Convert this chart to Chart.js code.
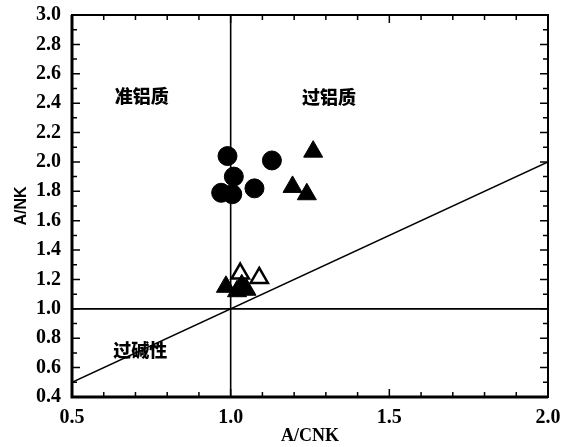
<!DOCTYPE html>
<html>
<head>
<meta charset="utf-8">
<script src="https://cdn.jsdelivr.net/npm/chart.js@4"></script>
<style>
  body { margin: 0; background: #fff; }
  #wrap { width: 568px; height: 447px; }
</style>
</head>
<body>
<div id="wrap"><canvas id="myChart" width="568" height="447"></canvas></div>
<script>
// données
const circlesX = [0.99, 1.01, 0.97, 1.005, 1.075, 1.13];
const circlesY = [2.04, 1.90, 1.79, 1.78, 1.82, 2.01];
const triFullX = [1.26, 1.195, 1.24, 0.985, 1.02, 1.05, 1.035];
const triFullY = [2.07, 1.83, 1.78, 1.15, 1.12, 1.13, 1.16];
const triOpenX = [1.03, 1.09];
const triOpenY = [1.24, 1.21];

// lignes de séparation
const diagX = [0.5, 2.0];
const diagY = [0.5, 2.0];
const vertX = [1.0, 1.0];
const vertY = [0.4, 3.0];
const horizX = [0.5, 2.0];
const horizY = [1.0, 1.0];

// étiquettes des domaines
const zoneNames = ['准铝质', '过铝质', '过碱性'];
const zoneX = [0.72, 1.31, 0.715];
const zoneY = [2.45, 2.44, 0.72];

const xTitle = 'A/CNK';
const yTitle = 'A/NK';

function pts(xs, ys) {
    return xs.map((x, i) => ({ x: x, y: ys[i] }));
}

function lineSet(xs, ys) {
    return {
        type: 'line',
        data: pts(xs, ys),
        borderColor: '#000',
        borderWidth: 1.6,
        pointRadius: 0,
        fill: false
    };
}

// plugin : cadre, graduations intérieures et textes
const decor = {
    id: 'decor',
    afterDraw(chart) {
        const ctx = chart.ctx;
        const a = chart.chartArea;
        const xs = chart.scales.x, ys = chart.scales.y;
        ctx.save();
        ctx.strokeStyle = '#000';
        ctx.lineWidth = 1.5;
        for (let i = 5; i <= 20; i++) {
            const px = xs.getPixelForValue(i / 10);
            const len = (i % 5 === 0) ? 8 : 5;
            ctx.beginPath();
            ctx.moveTo(px, a.bottom); ctx.lineTo(px, a.bottom - len);
            ctx.moveTo(px, a.top); ctx.lineTo(px, a.top + len);
            ctx.stroke();
        }
        for (let i = 4; i <= 30; i++) {
            const py = ys.getPixelForValue(i / 10);
            const len = (i % 2 === 0) ? 8 : 5;
            ctx.beginPath();
            ctx.moveTo(a.left, py); ctx.lineTo(a.left + len, py);
            ctx.moveTo(a.right, py); ctx.lineTo(a.right - len, py);
            ctx.stroke();
        }
        ctx.lineWidth = 2;
        ctx.strokeRect(a.left, a.top, a.right - a.left, a.bottom - a.top);
        ctx.lineWidth = 3;
        ctx.beginPath();
        ctx.moveTo(a.left, a.top); ctx.lineTo(a.left, a.bottom); ctx.lineTo(a.right, a.bottom);
        ctx.stroke();

        ctx.fillStyle = '#000';
        ctx.font = '900 18px "Noto Sans CJK SC"';
        ctx.textAlign = 'center';
        ctx.textBaseline = 'middle';
        zoneNames.forEach((t, i) => {
            ctx.fillText(t, xs.getPixelForValue(zoneX[i]), ys.getPixelForValue(zoneY[i]));
        });
        ctx.restore();
    }
};

const ctx = document.getElementById('myChart').getContext('2d');
const myChart = new Chart(ctx, {
    type: 'scatter',
    data: {
        datasets: [
            lineSet(diagX, diagY),
            lineSet(vertX, vertY),
            lineSet(horizX, horizY),
            {
                data: pts(circlesX, circlesY),
                pointStyle: 'circle',
                pointRadius: 9.5,
                backgroundColor: '#000',
                borderColor: '#000',
                borderWidth: 1
            },
            {
                data: pts(triFullX, triFullY),
                pointStyle: 'triangle',
                pointRadius: 11,
                backgroundColor: '#000',
                borderColor: '#000',
                borderWidth: 1
            },
            {
                data: pts(triOpenX, triOpenY),
                pointStyle: 'triangle',
                pointRadius: 10,
                backgroundColor: '#fff',
                borderColor: '#000',
                borderWidth: 2.5
            }
        ]
    },
    options: {
        responsive: false,
        animation: false,
        layout: { padding: { top: 10, right: 20, left: 12, bottom: 0 } },
        plugins: {
            legend: { display: false },
            tooltip: { enabled: false }
        },
        scales: {
            x: {
                type: 'linear',
                min: 0.5, max: 2.0,
                grid: { display: false },
                border: { display: false },
                ticks: {
                    stepSize: 0.5,
                    color: '#000',
                    padding: 1,
                    font: { family: 'Liberation Serif', size: 20, weight: 'bold' },
                    callback: v => v.toFixed(1)
                },
                title: {
                    display: true, text: xTitle, color: '#000', padding: 0,
                    font: { family: 'Liberation Serif', size: 18, weight: 'bold' }
                },
                afterFit: s => { s.height = 50; }
            },
            y: {
                type: 'linear',
                min: 0.4, max: 3.0,
                grid: { display: false },
                border: { display: false },
                ticks: {
                    stepSize: 0.2,
                    color: '#000',
                    padding: 3,
                    font: { family: 'Liberation Serif', size: 20, weight: 'bold' },
                    callback: v => v.toFixed(1)
                },
                title: {
                    display: true, text: yTitle, color: '#000', padding: 0,
                    font: { family: 'Liberation Sans', size: 16, weight: 'bold' }
                },
                afterFit: s => { s.width = 60; }
            }
        }
    },
    plugins: [decor]
});
</script>
</body>
</html>
